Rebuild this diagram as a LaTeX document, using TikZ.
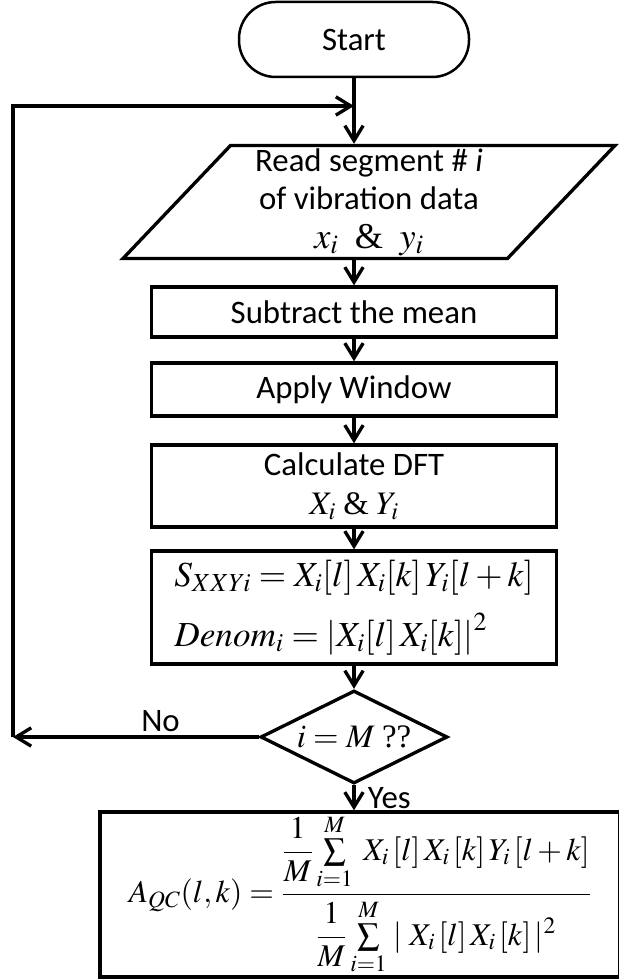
\RequirePackage{fix-cm}
\documentclass[tikz,border=0pt]{standalone}
\usepackage{mathptmx}
\usepackage[no-math]{fontspec}
\setmainfont{Carlito}
\newfontfamily\tnr{Liberation Serif}
\usepackage{tikz}
\usetikzlibrary{arrows.meta,shapes.geometric}
\tikzset{
	flow/.style={line width=1mm, -{Straight Barb[length=4.5mm,width=5.5mm]}},
	box/.style={draw, line width=1mm, minimum width=121.5mm, inner sep=0pt, align=center},
}

\begin{document}
\begin{tikzpicture}[x=0.3mm, y=0.3mm, font=\fontsize{28}{33}\selectfont]
	\useasboundingbox (0,0) rectangle (618,980);

	\node[draw, line width=0.75mm, rounded corners=11mm, minimum width=69mm, minimum height=22.5mm] (start) at (354,940.5) {Start};
	\node[trapezium, trapezium left angle=45, trapezium right angle=135, trapezium stretches body, draw, line width=1mm, minimum width=147.6mm, minimum height=33.9mm, inner sep=0pt, align=center] (read) at (369,778) {Read segment \# \textit{i}\\ of vibration data\\ {\fontsize{31}{33}\selectfont$x_i$\ \ {\tnr\&}\ \ $y_i$}};
	\node[box, minimum height=15mm] (sub) at (354,668) {Subtract the mean};
	\node[box, minimum height=15.9mm] (win) at (354,590.5) {Apply Window};
	\node[box, minimum height=24.6mm] (dft) at (354,494) {Calculate DFT\\ $X_i$\ {\tnr\&} $Y_i$};
	\node[box, minimum height=33.9mm, align=left, font=\fontsize{30}{36}\selectfont] (spec) at (354,372.5) {$S_{XXYi}=X_i[l]\,X_i[k]\,Y_i[l+k]$\\[14pt] $Denom_i=\left|X_i[l]\,X_i[k]\right|^2$};
	\node[diamond, draw, line width=1mm, aspect=2, minimum width=56.1mm, minimum height=27.9mm, inner sep=0pt] (test) at (354,243) {$i=M$ {\tnr ??}};
	\node[box, minimum width=156mm, minimum height=49.5mm, font=\fontsize{27}{32}\selectfont] (final) at (360,85.5) {$\displaystyle A_{QC}(l,k)=\frac{\displaystyle\frac{1}{M}\textstyle\sum\limits_{i=1}^{M}\;X_i\,[l]\,X_i\,[k]\,Y_i\,[l+k]}{\displaystyle\frac{1}{M}\textstyle\sum\limits_{i=1}^{M}\,|\;X_i\,[l]\,X_i\,[k]\,|^2}$};

	% loop back
	\coordinate (join) at (354,874);
	\coordinate (back) at (13,243);

	\draw[flow] (start) -- (start |- read.north);
	\draw[flow] (back) |- (join);
	\draw[flow] (sub.north |- read.south) -- (sub);
	\draw[flow] (sub) -- (win);
	\draw[flow] (win) -- (dft);
	\draw[flow] (dft) -- (spec);
	\draw[flow] (spec) -- (test);
	\draw[flow] (test) -- node[above, pos=0.4]{No} (back);
	\draw[flow] (test) -- node[right, xshift=2.5mm]{Yes} (test |- final.north);
\end{tikzpicture}
\end{document}
